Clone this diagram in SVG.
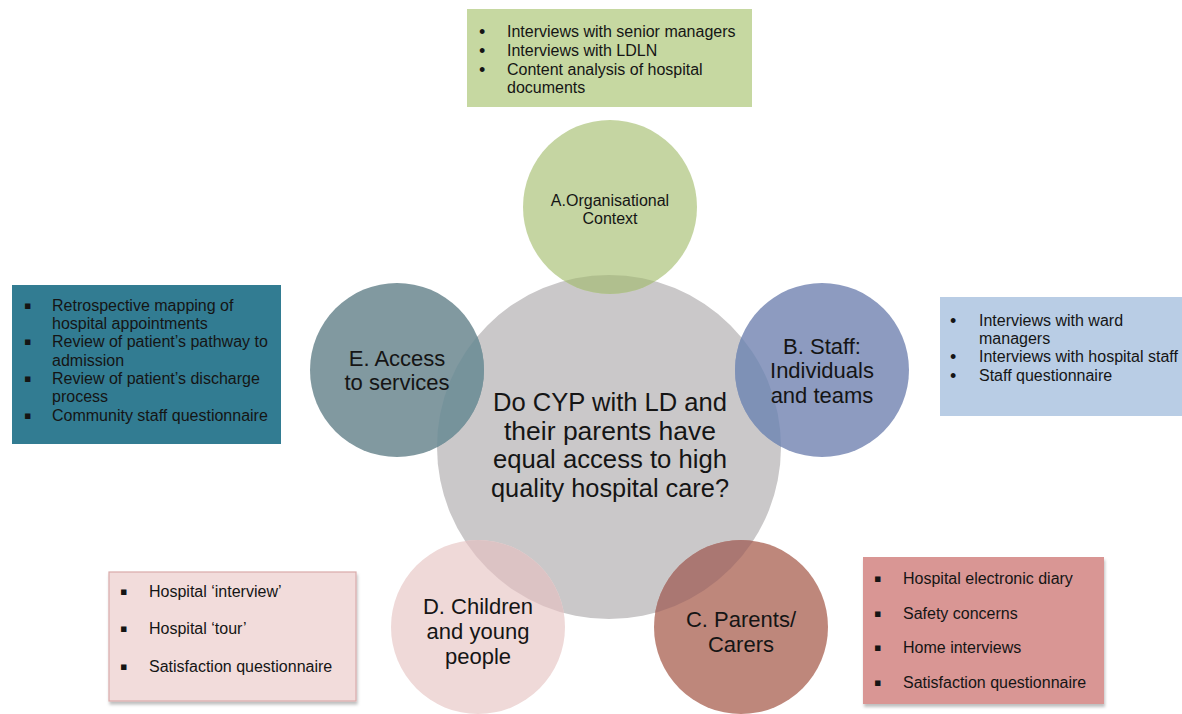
<svg xmlns="http://www.w3.org/2000/svg" width="1182" height="714" viewBox="0 0 1182 714">
<style>
.t{font-family:"Liberation Sans",Arial,sans-serif;fill:#151515}
.box{font-size:16px}
.bl{font-family:"Liberation Sans","DejaVu Sans",sans-serif;font-size:18px;fill:#151515}
.sq{font-family:"DejaVu Sans",sans-serif;font-size:11px;fill:#151515}
.c{text-anchor:middle}
</style>
<defs>
<filter id="sh" x="-5%" y="-5%" width="115%" height="115%">
<feDropShadow dx="1" dy="3" stdDeviation="1.5" flood-color="#000" flood-opacity="0.25"/>
</filter>
<clipPath id="cen"><circle cx="609" cy="447" r="172"/></clipPath>
</defs>
<rect width="1182" height="714" fill="#fff"/>
<g id="connectors"/>

<g id="center">
<circle cx="609" cy="447" r="172" fill="#cac8c9"/>
</g>

<g id="nodeA">
<circle cx="610" cy="207" r="87" fill="#c5d5a2"/>
<circle cx="610" cy="207" r="87" fill="#b0bf8e" clip-path="url(#cen)"/>
<text class="t c" font-size="16" x="610" y="206">A.Organisational</text>
<text class="t c" font-size="16" x="610" y="224">Context</text>
</g>

<g id="nodeE">
<circle cx="397" cy="370" r="87" fill="#8199a0"/>
<circle cx="397" cy="370" r="87" fill="#76939b" clip-path="url(#cen)"/>
<text class="t c" font-size="22" x="397" y="366">E. Access</text>
<text class="t c" font-size="22" x="397" y="390">to services</text>
</g>

<g id="nodeB">
<circle cx="822" cy="370" r="87" fill="#8d9bc0"/>
<circle cx="822" cy="370" r="87" fill="#7e91b6" clip-path="url(#cen)"/>
<text class="t c" font-size="22" x="822" y="354">B. Staff:</text>
<text class="t c" font-size="22" x="822" y="378">Individuals</text>
<text class="t c" font-size="22" x="822" y="403">and teams</text>
</g>

<g id="nodeD">
<circle cx="478" cy="627" r="87" fill="#efd9d8"/>
<circle cx="478" cy="627" r="87" fill="#dcc3c4" clip-path="url(#cen)"/>
<text class="t c" font-size="22" x="478" y="614">D. Children</text>
<text class="t c" font-size="22" x="478" y="639">and young</text>
<text class="t c" font-size="22" x="478" y="664">people</text>
</g>

<g id="nodeC">
<circle cx="741" cy="627" r="87" fill="#be877b"/>
<circle cx="741" cy="627" r="87" fill="#aa7772" clip-path="url(#cen)"/>
<text class="t c" font-size="22" x="741" y="627">C. Parents/</text>
<text class="t c" font-size="22" x="741" y="652">Carers</text>
</g>

<g id="centerText">
<text class="t c" font-size="25" x="610" y="411" textLength="234" lengthAdjust="spacingAndGlyphs">Do CYP with LD and</text>
<text class="t c" font-size="25" x="610" y="440" textLength="212" lengthAdjust="spacingAndGlyphs">their parents have</text>
<text class="t c" font-size="25" x="610" y="468" textLength="234" lengthAdjust="spacingAndGlyphs">equal access to high</text>
<text class="t c" font-size="25" x="610" y="497" textLength="238" lengthAdjust="spacingAndGlyphs">quality hospital care?</text>
</g>

<g id="boxA">
<rect x="467" y="9" width="285" height="98" fill="#c6d8a1"/>
<text class="bl" x="479" y="38">•</text>
<text class="bl" x="479" y="57">•</text>
<text class="bl" x="479" y="76">•</text>
<text class="t box" x="507" y="37">Interviews with senior managers</text>
<text class="t box" x="507" y="56">Interviews with LDLN</text>
<text class="t box" x="507" y="75">Content analysis of hospital</text>
<text class="t box" x="507" y="93">documents</text>
</g>

<g id="boxE">
<rect x="12" y="285" width="269" height="159" fill="#327c92"/>
<text class="sq" x="24" y="309">▪</text>
<text class="sq" x="24" y="345">▪</text>
<text class="sq" x="24" y="382">▪</text>
<text class="sq" x="24" y="419">▪</text>
<text class="t box" x="52" y="311">Retrospective mapping of</text>
<text class="t box" x="52" y="329">hospital appointments</text>
<text class="t box" x="52" y="347">Review of patient’s pathway to</text>
<text class="t box" x="52" y="366">admission</text>
<text class="t box" x="52" y="384">Review of patient’s discharge</text>
<text class="t box" x="52" y="402">process</text>
<text class="t box" x="52" y="421">Community staff questionnaire</text>
</g>

<g id="boxB">
<rect x="940" y="297" width="242" height="119" fill="#b9cde5"/>
<text class="bl" x="950" y="327">•</text>
<text class="bl" x="950" y="363">•</text>
<text class="bl" x="950" y="382">•</text>
<text class="t box" x="979" y="326">Interviews with ward</text>
<text class="t box" x="979" y="344">managers</text>
<text class="t box" x="979" y="362">Interviews with hospital staff</text>
<text class="t box" x="979" y="381">Staff questionnaire</text>
</g>

<g id="boxD">
<rect x="109" y="572" width="247" height="129" fill="#f2dcdb" stroke="#d9abaa" stroke-width="1.2" filter="url(#sh)"/>
<text class="sq" x="120" y="595">▪</text>
<text class="sq" x="120" y="632">▪</text>
<text class="sq" x="120" y="670">▪</text>
<text class="t box" x="149" y="597">Hospital ‘interview’</text>
<text class="t box" x="149" y="634">Hospital ‘tour’</text>
<text class="t box" x="149" y="672">Satisfaction questionnaire</text>
</g>

<g id="boxC">
<rect x="863" y="557" width="241" height="147" fill="#d99694" filter="url(#sh)"/>
<text class="sq" x="874" y="582">▪</text>
<text class="sq" x="874" y="617">▪</text>
<text class="sq" x="874" y="651">▪</text>
<text class="sq" x="874" y="686">▪</text>
<text class="t box" x="903" y="584">Hospital electronic diary</text>
<text class="t box" x="903" y="619">Safety concerns</text>
<text class="t box" x="903" y="653">Home interviews</text>
<text class="t box" x="903" y="688">Satisfaction questionnaire</text>
</g>
</svg>
